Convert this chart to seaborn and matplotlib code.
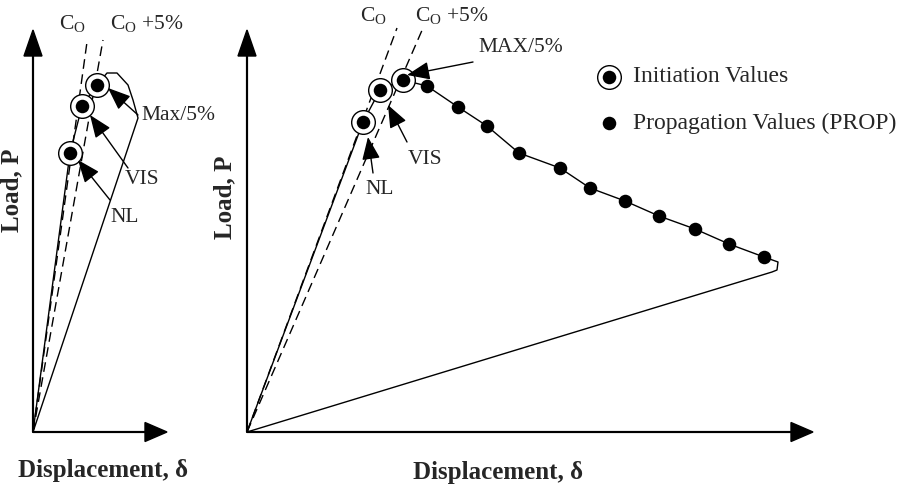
import numpy as np
import matplotlib
matplotlib.use("Agg")
import matplotlib.pyplot as plt
import seaborn as sns
import pandas as pd

# %% data (units ~ pixels from each origin)
# left panel: load-displacement curve, initiation points, compliance lines
left_curve_x = [0, 37, 49, 64, 74, 84, 95, 100, 105, 0]
left_curve_y = [0, 279, 326, 347, 359, 359, 347, 332, 314, 0]
left_init_x = [37, 49, 64]
left_init_y = [279, 326, 347]
left_co_x = [0, 54]
left_co_y = [0, 390]
left_co5_x = [0, 70]
left_co5_y = [0, 392]

# right panel
right_init_x = [116, 133, 156]
right_init_y = [310, 342, 352]
right_prop_x = [180, 211, 240, 272, 313, 343, 378, 412, 448, 482, 517]
right_prop_y = [346, 325, 306, 279, 264, 244, 231, 216, 203, 188, 175]
right_tip_x = [531, 530, 525]
right_tip_y = [170, 162, 160]
right_co_x = [0, 150]
right_co_y = [0, 404]
right_co5_x = [0, 176]
right_co5_y = [0, 404]

right_curve_x = [0] + right_init_x + right_prop_x + right_tip_x + [0]
right_curve_y = [0] + right_init_y + right_prop_y + right_tip_y + [0]

# labels
co_label = r"C$_\mathrm{O}$"
co5_label = r"C$_\mathrm{O}$ +5%"
xlabel = "Displacement, δ"
ylabel = "Load, P"

# %% style
sns.set_style("white")
plt.rcParams["font.family"] = ["Liberation Serif", "DejaVu Serif"]
plt.rcParams["mathtext.fontset"] = "custom"
plt.rcParams["mathtext.rm"] = "Liberation Serif"
plt.rcParams["mathtext.it"] = "Liberation Serif:italic"

W, H = 909, 487
fig = plt.figure(figsize=(W / 100, H / 100), dpi=100)
ax_l = fig.add_axes([0, 0, 200 / W, 1])
ax_r = fig.add_axes([200 / W, 0, 709 / W, 1])
ax_l.set_xlim(-33, 167)
ax_r.set_xlim(-47, 662)
for ax in (ax_l, ax_r):
    ax.set_ylim(-55, 432)
    ax.axis("off")

LW = 1.0
FS = 15.5
DASH = (0, (7, 4))
RING = 290
DOT = 95


def curve(ax, xs, ys, ls="-"):
    df = pd.DataFrame({"x": xs, "y": ys})
    sns.lineplot(data=df, x="x", y="y", sort=False, estimator=None, ax=ax,
                 color="black", lw=LW, linestyle=ls)


def init_points(ax, xs, ys):
    df = pd.DataFrame({"x": xs, "y": ys})
    sns.scatterplot(data=df, x="x", y="y", ax=ax, s=RING, facecolor="white",
                    edgecolor="black", linewidth=1.0, zorder=3)
    sns.scatterplot(data=df, x="x", y="y", ax=ax, s=DOT, color="black",
                    edgecolor="black", linewidth=0, zorder=4)


def pointer(ax, label, tail, tip, txt):
    ax.annotate("", xy=tip, xytext=tail,
                arrowprops=dict(arrowstyle="-|>,head_length=0.7,head_width=0.28",
                                mutation_scale=20, color="black", lw=LW,
                                shrinkA=0, shrinkB=0))
    ax.text(txt[0], txt[1], label, fontsize=FS, ha="center", va="center")


def axes_arrows(ax, xmax, ymax, lab_x, lab_y):
    ax.arrow(0, 0, 0, ymax, width=0.8, head_width=18, head_length=26,
             length_includes_head=True, fc="black", ec="black")
    ax.arrow(0, 0, xmax, 0, width=0.8, head_width=19, head_length=22,
             length_includes_head=True, fc="black", ec="black")
    ax.text(lab_x[0], lab_x[1], xlabel, fontsize=18, fontweight="bold",
            ha="center", va="center")
    ax.text(lab_y[0], lab_y[1], ylabel, fontsize=18, fontweight="bold",
            ha="center", va="center", rotation=90)


# %% left panel
axes_arrows(ax_l, 134, 402, (70, -39), (-21, 242))
curve(ax_l, left_co_x, left_co_y, DASH)
curve(ax_l, left_co5_x, left_co5_y, DASH)
curve(ax_l, left_curve_x, left_curve_y)
init_points(ax_l, left_init_x, left_init_y)
ax_l.text(39, 408, co_label, fontsize=FS, ha="center", va="center")
ax_l.text(77, 409, co5_label, fontsize=FS, ha="left", va="center")
pointer(ax_l, "NL", (77, 232), (45, 272), (92, 215))
pointer(ax_l, "VIS", (95, 264), (57, 317), (109, 253))
pointer(ax_l, "Max/5%", (105, 317), (75, 344), (145, 316))

# %% right panel
axes_arrows(ax_r, 566, 402, (251, -41), (-22, 235))
curve(ax_r, right_co_x, right_co_y, DASH)
curve(ax_r, right_co5_x, right_co5_y, DASH)
curve(ax_r, right_curve_x, right_curve_y)
init_points(ax_r, right_init_x, right_init_y)
prop = pd.DataFrame({"x": right_prop_x, "y": right_prop_y})
sns.scatterplot(data=prop, x="x", y="y", ax=ax_r, s=DOT, color="black",
                linewidth=0, zorder=4)
ax_r.text(126, 416, co_label, fontsize=FS, ha="center", va="center")
ax_r.text(168, 417, co5_label, fontsize=FS, ha="left", va="center")
pointer(ax_r, "NL", (126, 259), (121, 295), (133, 242))
pointer(ax_r, "VIS", (160, 290), (141, 327), (178, 272))
pointer(ax_r, "MAX/5%", (226, 370), (160, 357), (274, 385))

# legend drawn as marks + text
leg_x = [362]
sns.scatterplot(x=leg_x, y=[355], ax=ax_r, s=RING, facecolor="white",
                edgecolor="black", linewidth=1.0, zorder=3)
sns.scatterplot(x=leg_x, y=[355], ax=ax_r, s=DOT, color="black",
                linewidth=0, zorder=4)
sns.scatterplot(x=leg_x, y=[309], ax=ax_r, s=DOT, color="black",
                linewidth=0, zorder=4)
ax_r.text(386, 355, "Initiation Values", fontsize=17, ha="left", va="center")
ax_r.text(386, 309, "Propagation Values (PROP)", fontsize=17, ha="left",
          va="center")

for ax in (ax_l, ax_r):
    ax.set_xlabel("")
    ax.set_ylabel("")

fig.savefig("out.png", dpi=100)
